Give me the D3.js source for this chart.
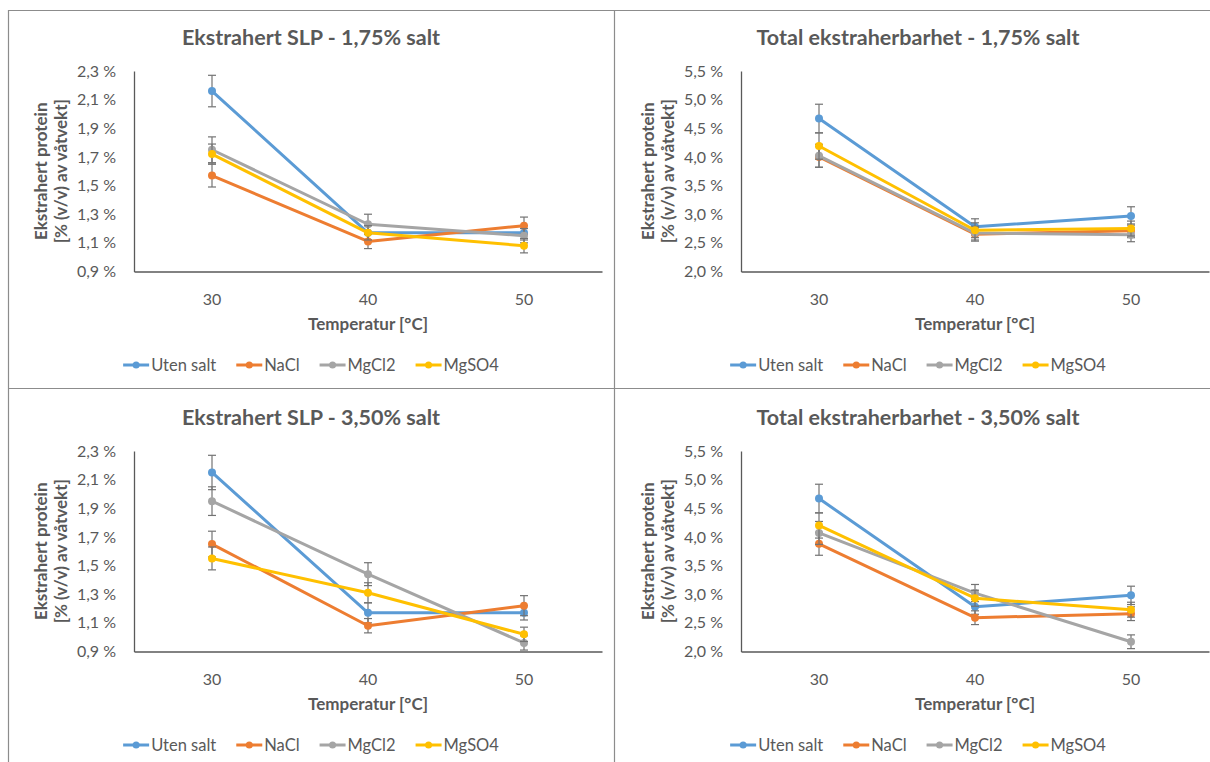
<!DOCTYPE html>
<html>
<head>
<meta charset="utf-8">
<script src="https://cdn.jsdelivr.net/npm/d3@7"></script>
<style>
  body { margin: 0; background: #fff; }
  svg { display: block; font-family: Lato, "Open Sans", sans-serif; }
</style>
</head>
<body>
<script>
// categories and series
const temps = ["30", "40", "50"];
const seriesNames = ["Uten salt", "NaCl", "MgCl2", "MgSO4"];
const colors = ["#5B9BD5", "#ED7D31", "#A5A5A5", "#FFC000"];

// Ekstrahert SLP - 1,75% salt
const slp175 = [[2.16, 1.17, 1.17], [1.57, 1.11, 1.22], [1.75, 1.23, 1.15], [1.72, 1.17, 1.08]];
const slp175Err = [[0.11, 0.05, 0.05], [0.08, 0.05, 0.06], [0.09, 0.07, 0.05], [0.07, 0.05, 0.05]];
// Total ekstraherbarhet - 1,75% salt
const tot175 = [[4.67, 2.78, 2.97], [4.00, 2.65, 2.71], [4.02, 2.67, 2.64], [4.19, 2.72, 2.75]];
const tot175Err = [[0.25, 0.14, 0.16], [0.18, 0.12, 0.12], [0.20, 0.12, 0.12], [0.23, 0.13, 0.13]];
// Ekstrahert SLP - 3,50% salt
const slp350 = [[2.15, 1.17, 1.17], [1.65, 1.08, 1.22], [1.95, 1.44, 0.96], [1.55, 1.31, 1.02]];
const slp350Err = [[0.12, 0.07, 0.05], [0.09, 0.05, 0.07], [0.10, 0.08, 0.05], [0.08, 0.07, 0.05]];
// Total ekstraherbarhet - 3,50% salt
const tot350 = [[4.67, 2.78, 2.98], [3.88, 2.59, 2.66], [4.07, 3.02, 2.17], [4.20, 2.93, 2.73]];
const tot350Err = [[0.25, 0.13, 0.16], [0.20, 0.12, 0.12], [0.20, 0.15, 0.12], [0.22, 0.14, 0.13]];

// tick labels
const slpTicks = [0.9, 1.1, 1.3, 1.5, 1.7, 1.9, 2.1, 2.3];
const totTicks = [2.0, 2.5, 3.0, 3.5, 4.0, 4.5, 5.0, 5.5];

const panels = [
  { title: "Ekstrahert SLP - 1,75% salt", values: slp175, errs: slp175Err, ticks: slpTicks, dx: 0, dy: 0 },
  { title: "Total ekstraherbarhet - 1,75% salt", values: tot175, errs: tot175Err, ticks: totTicks, dx: 607, dy: 0 },
  { title: "Ekstrahert SLP - 3,50% salt", values: slp350, errs: slp350Err, ticks: slpTicks, dx: 0, dy: 380 },
  { title: "Total ekstraherbarhet - 3,50% salt", values: tot350, errs: tot350Err, ticks: totTicks, dx: 607, dy: 380 }
];

const W = 1210, H = 762;
const textColor = "#595959";

const svg = d3.select("body").append("svg")
  .attr("width", W).attr("height", H);

// panel borders
const border = svg.append("g").attr("stroke", "#8c8c8c").attr("stroke-width", 1.2);
border.append("line").attr("x1", 8).attr("x2", W).attr("y1", 10.5).attr("y2", 10.5);
border.append("line").attr("x1", 8.5).attr("x2", 8.5).attr("y1", 10).attr("y2", H);
border.append("line").attr("x1", 614.5).attr("x2", 614.5).attr("y1", 10).attr("y2", H);
border.append("line").attr("x1", 8).attr("x2", W).attr("y1", 388.5).attr("y2", 388.5);

panels.forEach(function(p) {
  const g = svg.append("g").attr("transform", "translate(" + p.dx + "," + p.dy + ")");
  const left = 134, right = 602, top = 71, bottom = 271.5;
  const cx = 311;

  const x = d3.scaleBand().domain(temps).range([left, right]);
  const y = d3.scaleLinear().domain([p.ticks[0], p.ticks[p.ticks.length - 1]]).range([bottom, top]);

  // title
  g.append("text")
    .attr("x", cx).attr("y", 45)
    .attr("text-anchor", "middle")
    .attr("font-size", 21.5).attr("font-weight", "bold")
    .attr("fill", textColor)
    .text(p.title);

  // y axis
  const yAxis = g.append("g")
    .attr("transform", "translate(" + left + ",0)")
    .call(d3.axisLeft(y).tickValues(p.ticks).tickSize(0).tickPadding(18)
      .tickFormat(function(d) { return d3.format(".1f")(d).replace(".", ",") + " %"; }));
  yAxis.select(".domain").attr("stroke", "#595959").attr("stroke-width", 1.3);
  yAxis.selectAll("text").attr("font-size", 16).attr("fill", textColor)
    .attr("font-family", "Lato, sans-serif");

  // x axis
  const xAxis = g.append("g")
    .attr("transform", "translate(0," + bottom + ")")
    .call(d3.axisBottom(x).tickSize(0).tickPadding(22));
  xAxis.select(".domain").attr("stroke", "#595959").attr("stroke-width", 1.3);
  xAxis.selectAll("text").attr("font-size", 16).attr("fill", textColor)
    .attr("font-family", "Lato, sans-serif");

  // axis titles
  g.append("text")
    .attr("x", (left + right) / 2).attr("y", 330)
    .attr("text-anchor", "middle")
    .attr("font-size", 17).attr("font-weight", "bold").attr("fill", textColor)
    .text("Temperatur [°C]");

  const ty = (top + bottom) / 2;
  g.append("text")
    .attr("transform", "translate(47," + ty + ") rotate(-90)")
    .attr("text-anchor", "middle")
    .attr("font-size", 17).attr("font-weight", "bold").attr("fill", textColor)
    .text("Ekstrahert protein");
  g.append("text")
    .attr("transform", "translate(67," + ty + ") rotate(-90)")
    .attr("text-anchor", "middle")
    .attr("font-size", 17).attr("font-weight", "bold").attr("fill", textColor)
    .text("[% (v/v) av våtvekt]");

  const line = d3.line()
    .x(function(d, i) { return x(temps[i]) + x.bandwidth() / 2; })
    .y(function(d) { return y(d); });

  p.values.forEach(function(vals, s) {
    const sg = g.append("g");
    sg.append("path")
      .datum(vals)
      .attr("fill", "none")
      .attr("stroke", colors[s])
      .attr("stroke-width", 3)
      .attr("stroke-linejoin", "round")
      .attr("d", line);

    // error bars
    const eb = sg.append("g").attr("stroke", "#737373").attr("stroke-width", 1.2);
    vals.forEach(function(v, i) {
      const px = x(temps[i]) + x.bandwidth() / 2;
      const e = p.errs[s][i];
      const y1 = y(v - e), y2 = y(v + e);
      eb.append("line").attr("x1", px).attr("x2", px).attr("y1", y1).attr("y2", y2);
      eb.append("line").attr("x1", px - 4).attr("x2", px + 4).attr("y1", y1).attr("y2", y1);
      eb.append("line").attr("x1", px - 4).attr("x2", px + 4).attr("y1", y2).attr("y2", y2);
    });

    sg.selectAll("circle")
      .data(vals)
      .enter().append("circle")
      .attr("cx", function(d, i) { return x(temps[i]) + x.bandwidth() / 2; })
      .attr("cy", function(d) { return y(d); })
      .attr("r", 4)
      .attr("fill", colors[s]);
  });

  // legend
  const lg = g.append("g").attr("transform", "translate(0,365)");
  const items = [];
  seriesNames.forEach(function(name, s) {
    const it = lg.append("g");
    it.append("line").attr("x1", 0).attr("x2", 26).attr("y1", 0).attr("y2", 0)
      .attr("stroke", colors[s]).attr("stroke-width", 3);
    it.append("circle").attr("cx", 13).attr("cy", 0).attr("r", 3.5).attr("fill", colors[s]);
    const t = it.append("text").attr("x", 28).attr("y", 6)
      .attr("font-size", 16.5).attr("fill", textColor).text(name);
    const w = 28 + t.node().getComputedTextLength();
    items.push({ node: it, w: w });
  });
  const gap = 20;
  const total = d3.sum(items, function(d) { return d.w; }) + gap * (items.length - 1);
  let offset = cx - total / 2;
  items.forEach(function(d) {
    d.node.attr("transform", "translate(" + offset + ",0)");
    offset += d.w + gap;
  });
});
</script>
</body>
</html>
